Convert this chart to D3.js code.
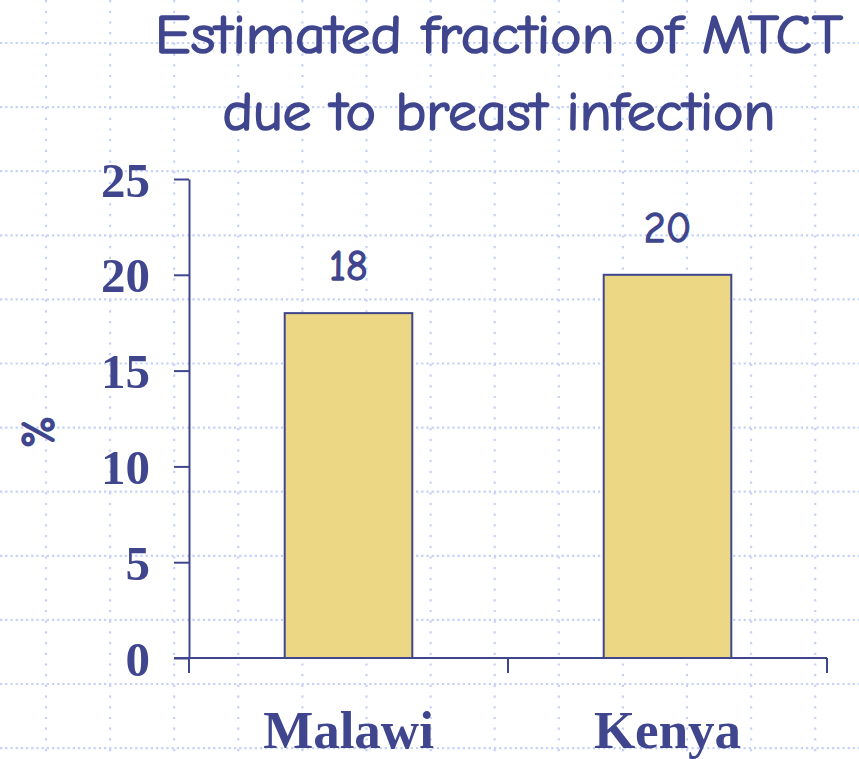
<!DOCTYPE html>
<html>
<head>
<meta charset="utf-8">
<script src="https://cdn.jsdelivr.net/npm/d3@7"></script>
<style>
  html, body { margin: 0; padding: 0; background: #ffffff; }
  svg { display: block; }
</style>
</head>
<body>
<svg id="chart" width="859" height="759"></svg>
<script>
// ---- data ----
const categories = ["Malawi", "Kenya"];
const values = [18, 20];
const valueLabels = ["18", "20"];
const yTicks = [0, 5, 10, 15, 20, 25];
const titleLines = ["Estimated fraction of MTCT", "due to breast infection"];
const yAxisLabel = "%";

// ---- styles ----
const ink = "#40468e";
const barFill = "#ebd784";
const gridColor = "#c4d2f8";
const comic = "'Comic Sans MS', 'Comic Neue', 'DejaVu Sans', sans-serif";
const serif = "'Liberation Serif', 'Times New Roman', serif";

const W = 859, H = 759;
const svg = d3.select("#chart");

// background dotted grid
const gx0 = 46, gy0 = 43, gstep = 64.1;
const gridG = svg.append("g");
const vx = d3.range(gx0, W, gstep);
const hy = d3.range(gy0, H, gstep);
gridG.selectAll("line.v").data(vx).join("line")
  .attr("x1", d => d).attr("x2", d => d).attr("y1", 0).attr("y2", H)
  .attr("stroke", gridColor).attr("stroke-width", 2.2).attr("stroke-dasharray", "2.2,8.5");
gridG.selectAll("line.h").data(hy).join("line")
  .attr("x1", 0).attr("x2", W).attr("y1", d => d).attr("y2", d => d)
  .attr("stroke", gridColor).attr("stroke-width", 2.2).attr("stroke-dasharray", "2.2,3");

// scales
const x = d3.scaleBand().domain(categories).range([189, 827]).paddingInner(0.6).paddingOuter(0.3);
const y = d3.scaleLinear().domain([0, 25]).range([658, 179]);

// bars
svg.append("g").selectAll("rect").data(values).join("rect")
  .attr("x", (d, i) => x(categories[i]))
  .attr("y", d => y(d))
  .attr("width", x.bandwidth())
  .attr("height", d => y(0) - y(d))
  .attr("fill", barFill).attr("stroke", ink).attr("stroke-width", 2);

// value labels
svg.append("g").selectAll("text").data(values).join("text")
  .attr("x", (d, i) => x(categories[i]) + x.bandwidth() / 2)
  .attr("y", d => y(d) - 33)
  .attr("text-anchor", "middle")
  .attr("font-family", comic).attr("font-size", 42)
  .attr("fill", ink).attr("stroke", ink).attr("stroke-width", 1.4)
  .text((d, i) => valueLabels[i]);

// y axis
const yAxis = d3.axisLeft(y).tickValues(yTicks).tickSize(15).tickSizeOuter(0).tickPadding(24);
const yg = svg.append("g").attr("transform", "translate(189,0)").call(yAxis);
yg.select(".domain").attr("stroke", ink).attr("stroke-width", 2);
yg.selectAll(".tick line").attr("stroke", ink).attr("stroke-width", 2);
yg.selectAll(".tick text")
  .attr("fill", ink).attr("font-family", serif).attr("font-weight", "bold")
  .attr("font-size", 49).attr("dy", "0.35em");

// x axis line and boundary ticks
const xg = svg.append("g");
xg.append("line").attr("x1", 189 - 15).attr("x2", 827).attr("y1", y(0)).attr("y2", y(0))
  .attr("stroke", ink).attr("stroke-width", 2);
const bounds = d3.range(categories.length + 1).map(i => x.range()[0] + i * x.step());
xg.selectAll("line.t").data(bounds).join("line")
  .attr("x1", d => d).attr("x2", d => d).attr("y1", y(0)).attr("y2", y(0) + 15)
  .attr("stroke", ink).attr("stroke-width", 2);

// category labels
const xAxis = d3.axisBottom(x).tickSize(0).tickPadding(0);
const xl = svg.append("g").attr("transform", `translate(0,${y(0)})`).call(xAxis);
xl.select(".domain").remove();
xl.selectAll(".tick text")
  .attr("y", 90).attr("dy", 0)
  .attr("fill", ink).attr("font-family", serif).attr("font-weight", "bold")
  .attr("font-size", 53);

// y axis label
svg.append("text")
  .attr("transform", "translate(54,432) rotate(-90)")
  .attr("text-anchor", "middle")
  .attr("font-family", comic).attr("font-size", 46)
  .attr("fill", ink).attr("stroke", ink).attr("stroke-width", 1.5)
  .text(yAxisLabel);

// title
const titleBoxes = [{ cx: 499, y: 53, len: 688 }, { cx: 499, y: 130, len: 553 }];
svg.append("g").selectAll("text").data(titleLines).join("text")
  .attr("x", (d, i) => titleBoxes[i].cx)
  .attr("y", (d, i) => titleBoxes[i].y)
  .attr("text-anchor", "middle")
  .attr("font-family", comic).attr("font-size", 55)
  .attr("textLength", (d, i) => titleBoxes[i].len)
  .attr("lengthAdjust", "spacingAndGlyphs")
  .attr("fill", ink).attr("stroke", ink).attr("stroke-width", 1.6)
  .text(d => d);
</script>
</body>
</html>
